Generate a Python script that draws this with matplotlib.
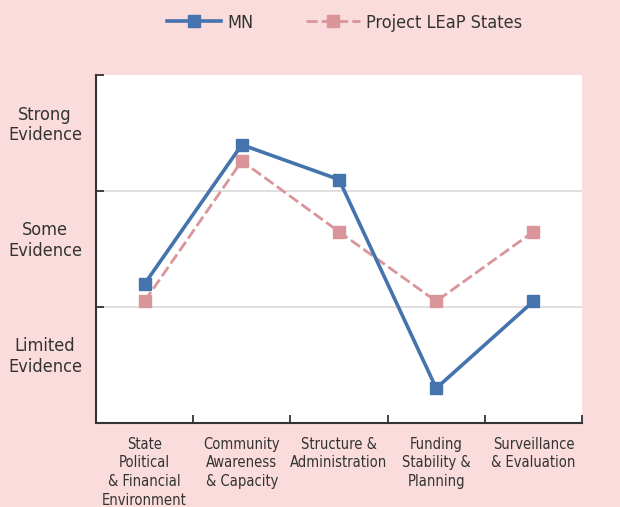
import matplotlib
matplotlib.use("Agg")
import matplotlib.pyplot as plt
from matplotlib.lines import Line2D

# data
categories = ["State\nPolitical\n& Financial\nEnvironment",
              "Community\nAwareness\n& Capacity",
              "Structure &\nAdministration",
              "Funding\nStability &\nPlanning",
              "Surveillance\n& Evaluation"]
mn_vals = [1.2, 2.4, 2.1, 0.3, 1.05]
leap_vals = [1.05, 2.26, 1.65, 1.05, 1.65]
level_labels = ["Limited\nEvidence", "Some\nEvidence", "Strong\nEvidence"]
level_pos = [0.6, 1.6, 2.6]

bg = "#fadcdd"
blue = "#4573ad"
pink = "#d9959a"
txt = "#333333"

plt.rcParams['font.family'] = ['DejaVu Sans']
plt.rcParams['font.stretch'] = 'condensed'

fig = plt.figure(figsize=(6.2, 5.07), dpi=100, facecolor=bg)
ax = fig.add_axes([0.1548, 0.1657, 0.784, 0.686])
ax.set_facecolor("white")

x = list(range(len(categories)))
ax.plot(x, mn_vals, color=blue, lw=2.6, marker="s", ms=8, zorder=3)
ax.plot(x, leap_vals, color=pink, lw=2.0, ls=(0, (4, 1.5)), marker="s", ms=8, zorder=2)

ax.set_xlim(-0.5, 4.5)
ax.set_ylim(0, 3)

# y axis: boundaries as major ticks, level names as minor labels
ax.set_yticks([0, 1, 2, 3])
ax.set_yticklabels([])
ax.set_yticks(level_pos, minor=True)
ax.set_yticklabels(level_labels, minor=True, fontsize=13, color=txt,
                   multialignment="center", linespacing=1.2)
ax.tick_params(axis="y", which="major", direction="in", length=6, width=1.3, color=txt)
ax.tick_params(axis="y", which="minor", length=0, pad=10)

# x axis
ax.set_xticks([-0.5, 0.5, 1.5, 2.5, 3.5, 4.5])
ax.set_xticklabels([])
ax.set_xticks(x, minor=True)
ax.set_xticklabels(categories, minor=True, fontsize=10.5, color=txt,
                   multialignment="center", va="top", linespacing=1.3)
ax.tick_params(axis="x", which="major", direction="in", length=6, width=1.3, color=txt)
ax.tick_params(axis="x", which="minor", length=0, pad=10)

ax.yaxis.grid(True, which="major", color="#d9d9d9", lw=1.2)
for gl, v in zip(ax.yaxis.get_gridlines(), ax.get_yticks()):
    if v in (0, 3):
        gl.set_visible(False)
ax.set_axisbelow(True)

for s in ("top", "right"):
    ax.spines[s].set_visible(False)
for s in ("left", "bottom"):
    ax.spines[s].set_color(txt)
    ax.spines[s].set_linewidth(1.5)

handles = [Line2D([], [], color=blue, lw=2.6, marker="s", ms=8),
           Line2D([], [], color=pink, lw=2.0, ls=(0, (4, 1.5)), marker="s", ms=8)]
fig.legend(handles, ["MN", "Project LEaP States"], loc="center",
           bbox_to_anchor=(0.556, 0.955), ncol=2, frameon=False,
           fontsize=13, handlelength=3.0, handletextpad=0.35, columnspacing=2.9,
           labelcolor=txt)

fig.savefig("out.png", dpi=100, facecolor=bg)
